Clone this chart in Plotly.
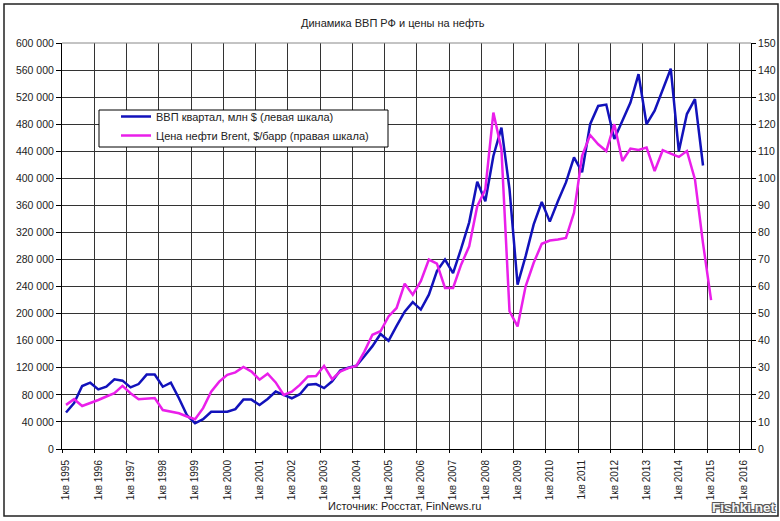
import plotly.graph_objects as go

# ---------------- data ----------------
years = list(range(1995, 2017))
tick_labels = [f"1кв {y}" for y in years]

gdp_name = "ВВП квартал, млн $ (левая шкала)"
oil_name = "Цена нефти Brent, $/барр (правая шкала)"

# quarterly GDP, mln $ (1кв 1995 ... 4кв 2014)
gdp = [54000, 68000, 93000, 98000, 88000, 92000, 103000, 101000,
       91000, 96000, 110000, 110000, 92000, 98000, 75000, 50000,
       38000, 44000, 55000, 55000, 55000, 59000, 73000, 73000,
       65000, 74000, 85000, 80000, 75000, 81000, 95000, 96000,
       90000, 100000, 116000, 120000, 123000, 137000, 152000, 170000,
       160000, 182000, 203000, 217000, 206000, 228000, 263000, 280000,
       260000, 296000, 335000, 395000, 366000, 433000, 475000, 384000,
       243000, 285000, 332000, 365000, 336000, 366000, 394000, 431000,
       409000, 480000, 507000, 509000, 458000, 485000, 512000, 554000,
       480000, 500000, 532000, 562000, 440000, 495000, 517000, 419000]

# Brent, $/bbl (1кв 1995 ... 1кв 2015)
oil = [16.3, 18.4, 15.9, 16.9, 18.1, 19.4, 20.6, 23.3,
       20.6, 18.4, 18.5, 18.8, 14.4, 13.8, 13.2, 12.0,
       11.0, 15.1, 21.2, 24.9, 27.4, 28.3, 30.3, 28.6,
       25.6, 27.8, 24.6, 20.0, 21.2, 23.7, 26.8, 27.0,
       30.7, 25.8, 28.6, 29.9, 30.7, 36.0, 42.2, 43.5,
       49.0, 52.1, 61.1, 57.0, 62.0, 70.0, 68.5, 59.5,
       59.5, 68.1, 74.9, 89.7, 95.9, 124.3, 110.7, 50.9,
       45.3, 60.1, 68.8, 75.8, 77.0, 77.4, 78.0, 87.3,
       108.3, 116.0, 112.6, 110.1, 120.0, 106.4, 111.0, 110.5,
       111.4, 102.7, 110.4, 109.1, 107.9, 110.1, 99.6, 76.0,
       55.0]

left_vals = list(range(0, 600001, 40000))
left_text = [f"{v:,}".replace(",", " ") for v in left_vals]
right_vals = list(range(0, 151, 10))

# quarter index (category centres between year ticks)
gdp_x = [i + 0.5 for i in range(len(gdp))]
oil_x = [i + 0.5 for i in range(len(oil))]
tick_pos = [4 * k for k in range(len(years))]

FONT = "Liberation Sans, Arial, sans-serif"
TXT = "#222222"

fig = go.Figure()
fig.add_trace(go.Scatter(x=gdp_x, y=gdp, name=gdp_name, mode="lines",
                         line=dict(color="#1212bb", width=2.5)))
fig.add_trace(go.Scatter(x=oil_x, y=oil, name=oil_name, mode="lines", yaxis="y2",
                         line=dict(color="#ea1fea", width=2.5)))

L, R, T, B = 62, 29, 43, 72
W, H = 780, 521
pw, ph = W - L - R, H - T - B


def px(x):
    return (x - L) / pw


def py(y):
    return (H - B - y) / ph


fig.update_layout(
    template="none",
    width=W, height=H,
    margin=dict(l=L, r=R, t=T, b=B, pad=0, autoexpand=False),
    paper_bgcolor="white", plot_bgcolor="white",
    font=dict(family=FONT, size=11, color=TXT),
    showlegend=True,
    legend=dict(x=px(116), y=py(102), xanchor="left", yanchor="top",
                bgcolor="rgba(0,0,0,0)", borderwidth=0,
                font=dict(size=11, color=TXT), tracegroupgap=0,
                itemwidth=30),
    xaxis=dict(range=[0, 85.45], tickmode="array", tickvals=tick_pos, ticktext=tick_labels,
               tickangle=-90, ticks="outside", ticklen=3, tickcolor="#000", tickwidth=1,
               showgrid=True, gridcolor="#333333", gridwidth=1, automargin=False,
               showline=True, linecolor="#000", linewidth=1, zeroline=False,
               tickfont=dict(size=10, color=TXT), ticklabelshift=4, ticklabelstandoff=3),
    yaxis=dict(range=[0, 600000], tickmode="array", tickvals=left_vals, ticktext=left_text,
               ticks="outside", ticklen=5, tickcolor="#000", tickwidth=1, automargin=False,
               showgrid=True, gridcolor="#333333", gridwidth=1,
               showline=True, linecolor="#000", linewidth=1, zeroline=False,
               tickfont=dict(size=10.5, color=TXT)),
    yaxis2=dict(range=[0, 150], tickmode="array", tickvals=right_vals, automargin=False,
                overlaying="y", side="right", ticks="outside", ticklen=4, tickcolor="#000",
                tickwidth=1, showgrid=False, showline=True, linecolor="#000", linewidth=1,
                zeroline=False, tickfont=dict(size=10.5, color=TXT)),
    shapes=[
        # outer chart frame
        dict(type="rect", xref="paper", yref="paper", x0=px(4), x1=px(778),
             y0=py(516), y1=py(4), line=dict(color="#222", width=1.5), layer="below"),
        # top edge of plot area
        dict(type="line", xref="paper", yref="paper", x0=0, x1=1, y0=1, y1=1,
             line=dict(color="#888", width=1), layer="above"),
        # legend box
        dict(type="rect", xref="paper", yref="paper", x0=px(99), x1=px(388),
             y0=py(147), y1=py(110), line=dict(color="#000", width=1),
             fillcolor="white", layer="above"),
    ],
    annotations=[
        dict(text="Динамика ВВП РФ и цены на нефть", xref="paper", yref="paper",
             x=px(393), y=py(23), showarrow=False, xanchor="center", yanchor="middle",
             font=dict(size=11, color=TXT)),
        dict(text="Источник: Росстат, FinNews.ru", xref="paper", yref="paper",
             x=px(404), y=py(506), showarrow=False, xanchor="center", yanchor="middle",
             font=dict(size=11, color=TXT)),
        dict(text="<b>Fishki.net</b>", xref="paper", yref="paper",
             x=px(778), y=py(507), showarrow=False, xanchor="right", yanchor="middle",
             font=dict(size=13.5, color="#f4f4f4",
                       shadow="-1px -1px 0 #555, 1px -1px 0 #555, -1px 1px 0 #555, 1px 1px 0 #555")),
    ],
)

fig.write_html("out.html")
